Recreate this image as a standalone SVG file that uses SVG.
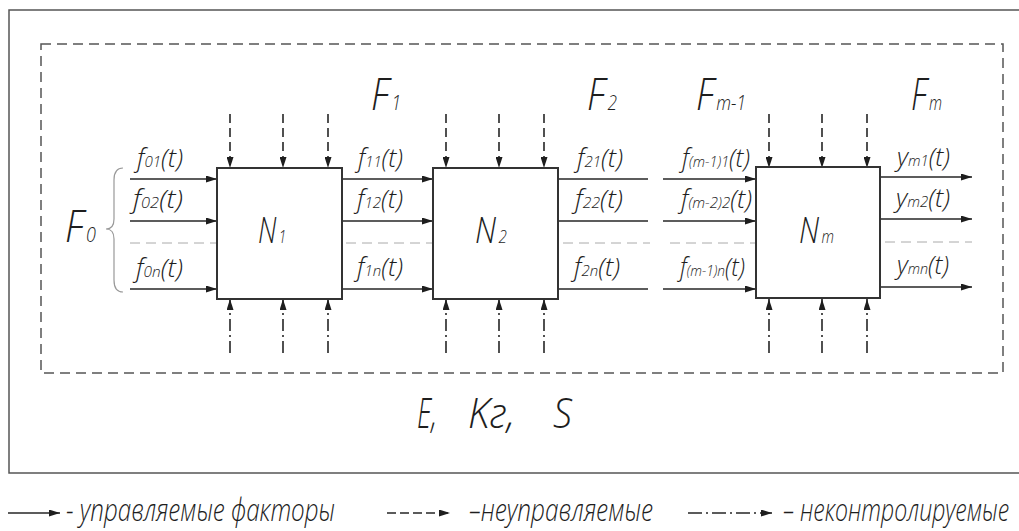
<svg xmlns="http://www.w3.org/2000/svg" width="1019" height="531" viewBox="0 0 1019 531">
<style>
.ln{stroke:#262626;stroke-width:1.6;fill:none}
.dsh{stroke-dasharray:9 5}
.dd{stroke-dasharray:12 4 2 4}
.row{stroke:#aaa;stroke-width:1;stroke-dasharray:10 6;fill:none}
.box{fill:#fff;stroke:#333;stroke-width:2}
.t{font-family:'Open Sans','DejaVu Sans',sans-serif;font-style:italic;font-weight:300;fill:#1e1e1e}
.m{font-size:26px}
.s{font-size:15px}
.big{font-size:45px}
.bs{font-size:21px}
.nn{font-size:36px}
.ns{font-size:18px}
</style>
<defs>
<marker id="ah" viewBox="0 0 11 7" refX="11" refY="3.5" markerWidth="11" markerHeight="7" markerUnits="userSpaceOnUse" orient="auto"><path d="M0,0 L11,3.5 L0,7 z" fill="#1e1e1e"/></marker>
</defs>
<rect width="1019" height="531" fill="#fff"/>
<rect x="9" y="10" width="1030" height="463" fill="none" stroke="#555" stroke-width="1.5"/>
<rect x="41" y="44" width="962" height="329" fill="none" stroke="#555" stroke-width="1.5" stroke-dasharray="10 6"/>

<g id="connectors">
<line class="ln" x1="130" y1="179" x2="217" y2="179" marker-end="url(#ah)"/>
<line class="ln" x1="130" y1="221" x2="217" y2="221" marker-end="url(#ah)"/>
<line class="ln" x1="130" y1="289" x2="217" y2="289" marker-end="url(#ah)"/>
<line class="row" x1="130" y1="243" x2="217" y2="243"/>
<line class="ln" x1="342" y1="179" x2="433" y2="179" marker-end="url(#ah)"/>
<line class="ln" x1="342" y1="221" x2="433" y2="221" marker-end="url(#ah)"/>
<line class="ln" x1="342" y1="289" x2="433" y2="289" marker-end="url(#ah)"/>
<line class="row" x1="346" y1="243" x2="433" y2="243"/>
<line class="ln" x1="558" y1="179" x2="648" y2="179"/>
<line class="ln" x1="558" y1="221" x2="648" y2="221"/>
<line class="ln" x1="558" y1="289" x2="648" y2="289"/>
<line class="row" x1="563" y1="243" x2="650" y2="243"/>
<line class="ln" x1="663" y1="179" x2="756" y2="179" marker-end="url(#ah)"/>
<line class="ln" x1="663" y1="221" x2="756" y2="221" marker-end="url(#ah)"/>
<line class="ln" x1="663" y1="289" x2="756" y2="289" marker-end="url(#ah)"/>
<line class="row" x1="670" y1="243" x2="756" y2="243"/>
<line class="ln" x1="880" y1="177" x2="972" y2="177" marker-end="url(#ah)"/>
<line class="ln" x1="880" y1="219" x2="972" y2="219" marker-end="url(#ah)"/>
<line class="ln" x1="880" y1="287" x2="972" y2="287" marker-end="url(#ah)"/>
<line class="row" x1="885" y1="242" x2="972" y2="242"/>
<line class="ln dsh" x1="230" y1="114" x2="230" y2="168" marker-end="url(#ah)"/>
<line class="ln dsh" x1="283" y1="114" x2="283" y2="168" marker-end="url(#ah)"/>
<line class="ln dsh" x1="328" y1="114" x2="328" y2="168" marker-end="url(#ah)"/>
<line class="ln dsh" x1="446" y1="114" x2="446" y2="168" marker-end="url(#ah)"/>
<line class="ln dsh" x1="499" y1="114" x2="499" y2="168" marker-end="url(#ah)"/>
<line class="ln dsh" x1="544" y1="114" x2="544" y2="168" marker-end="url(#ah)"/>
<line class="ln dsh" x1="769" y1="114" x2="769" y2="168" marker-end="url(#ah)"/>
<line class="ln dsh" x1="822" y1="114" x2="822" y2="168" marker-end="url(#ah)"/>
<line class="ln dsh" x1="867" y1="114" x2="867" y2="168" marker-end="url(#ah)"/>
<line class="ln dd" x1="230" y1="353" x2="230" y2="299" marker-end="url(#ah)"/>
<line class="ln dd" x1="283" y1="353" x2="283" y2="299" marker-end="url(#ah)"/>
<line class="ln dd" x1="328" y1="353" x2="328" y2="299" marker-end="url(#ah)"/>
<line class="ln dd" x1="446" y1="353" x2="446" y2="299" marker-end="url(#ah)"/>
<line class="ln dd" x1="499" y1="353" x2="499" y2="299" marker-end="url(#ah)"/>
<line class="ln dd" x1="544" y1="353" x2="544" y2="299" marker-end="url(#ah)"/>
<line class="ln dd" x1="769" y1="353" x2="769" y2="299" marker-end="url(#ah)"/>
<line class="ln dd" x1="822" y1="353" x2="822" y2="299" marker-end="url(#ah)"/>
<line class="ln dd" x1="867" y1="353" x2="867" y2="299" marker-end="url(#ah)"/>
<path d="M123,168 Q114,168 114,180 L114,219 Q114,229 106,229 Q114,229 114,239 L114,280 Q114,292 123,292" fill="none" stroke="#999" stroke-width="1.2"/>
</g>

<g id="N1"><rect class="box" x="217" y="168" width="125" height="131"/>
<text class="t" x="258" y="243" textLength="28" lengthAdjust="spacingAndGlyphs"><tspan class="nn">N</tspan><tspan class="ns" dx="3">1</tspan></text></g>
<g id="N2"><rect class="box" x="433" y="168" width="125" height="131"/>
<text class="t" x="475" y="243" textLength="32" lengthAdjust="spacingAndGlyphs"><tspan class="nn">N</tspan><tspan class="ns" dx="3">2</tspan></text></g>
<g id="Nm"><rect class="box" x="756" y="167" width="124" height="131"/>
<text class="t" x="799" y="243" textLength="35" lengthAdjust="spacingAndGlyphs"><tspan class="nn">N</tspan><tspan class="ns" dx="3">m</tspan></text></g>

<g id="F-labels">
<text class="t" x="65" y="242" textLength="31" lengthAdjust="spacingAndGlyphs"><tspan class="big">F</tspan><tspan class="bs" dx="3">0</tspan></text>
<text class="t" x="371" y="110" textLength="30" lengthAdjust="spacingAndGlyphs"><tspan class="big">F</tspan><tspan class="bs" dx="3">1</tspan></text>
<text class="t" x="587" y="110" textLength="30" lengthAdjust="spacingAndGlyphs"><tspan class="big">F</tspan><tspan class="bs" dx="3">2</tspan></text>
<text class="t" x="696" y="110" textLength="50" lengthAdjust="spacingAndGlyphs"><tspan class="big">F</tspan><tspan class="bs" dx="3">m-1</tspan></text>
<text class="t" x="911" y="110" textLength="31" lengthAdjust="spacingAndGlyphs"><tspan class="big">F</tspan><tspan class="bs" dx="3">m</tspan></text>
</g>

<g id="f-labels">
<text class="t" x="137" y="167" textLength="46" lengthAdjust="spacingAndGlyphs"><tspan class="m">f</tspan><tspan class="s">01</tspan><tspan class="m">(t)</tspan></text>
<text class="t" x="133" y="208" textLength="50" lengthAdjust="spacingAndGlyphs"><tspan class="m">f</tspan><tspan class="s">02</tspan><tspan class="m">(t)</tspan></text>
<text class="t" x="136" y="277" textLength="47" lengthAdjust="spacingAndGlyphs"><tspan class="m">f</tspan><tspan class="s">0n</tspan><tspan class="m">(t)</tspan></text>

<text class="t" x="358" y="167" textLength="45" lengthAdjust="spacingAndGlyphs"><tspan class="m">f</tspan><tspan class="s">11</tspan><tspan class="m">(t)</tspan></text>
<text class="t" x="357" y="208" textLength="46" lengthAdjust="spacingAndGlyphs"><tspan class="m">f</tspan><tspan class="s">12</tspan><tspan class="m">(t)</tspan></text>
<text class="t" x="357" y="276" textLength="46" lengthAdjust="spacingAndGlyphs"><tspan class="m">f</tspan><tspan class="s">1n</tspan><tspan class="m">(t)</tspan></text>

<text class="t" x="577" y="167" textLength="46" lengthAdjust="spacingAndGlyphs"><tspan class="m">f</tspan><tspan class="s">21</tspan><tspan class="m">(t)</tspan></text>
<text class="t" x="575" y="208" textLength="48" lengthAdjust="spacingAndGlyphs"><tspan class="m">f</tspan><tspan class="s">22</tspan><tspan class="m">(t)</tspan></text>
<text class="t" x="574" y="276" textLength="46" lengthAdjust="spacingAndGlyphs"><tspan class="m">f</tspan><tspan class="s">2n</tspan><tspan class="m">(t)</tspan></text>

<text class="t" x="682" y="167" textLength="68" lengthAdjust="spacingAndGlyphs"><tspan class="m">f</tspan><tspan class="s">(m-1)1</tspan><tspan class="m">(t)</tspan></text>
<text class="t" x="681" y="208" textLength="71" lengthAdjust="spacingAndGlyphs"><tspan class="m">f</tspan><tspan class="s">(m-2)2</tspan><tspan class="m">(t)</tspan></text>
<text class="t" x="680" y="276" textLength="65" lengthAdjust="spacingAndGlyphs"><tspan class="m">f</tspan><tspan class="s">(m-1)n</tspan><tspan class="m">(t)</tspan></text>

<text class="t" x="897" y="166" textLength="53" lengthAdjust="spacingAndGlyphs"><tspan class="m">y</tspan><tspan class="s">m1</tspan><tspan class="m">(t)</tspan></text>
<text class="t" x="896" y="207" textLength="54" lengthAdjust="spacingAndGlyphs"><tspan class="m">y</tspan><tspan class="s">m2</tspan><tspan class="m">(t)</tspan></text>
<text class="t" x="897" y="274" textLength="52" lengthAdjust="spacingAndGlyphs"><tspan class="m">y</tspan><tspan class="s">mn</tspan><tspan class="m">(t)</tspan></text>
</g>

<g id="params">
<text class="t" x="417" y="428" font-size="42" textLength="20" lengthAdjust="spacingAndGlyphs">E,</text>
<text class="t" x="468" y="428" font-size="42" textLength="47" lengthAdjust="spacingAndGlyphs">Kг,</text>
<text class="t" x="553" y="428" font-size="42" textLength="19" lengthAdjust="spacingAndGlyphs">S</text>
</g>

<g id="legend">
<line class="ln" x1="8" y1="513" x2="60" y2="513" marker-end="url(#ah)"/>
<text class="t" font-size="32" x="66" y="521" textLength="269" lengthAdjust="spacingAndGlyphs">- управляемые факторы</text>
<line class="ln" x1="387" y1="513" x2="450" y2="513" stroke-dasharray="9 4" marker-end="url(#ah)"/>
<text class="t" font-size="32" x="469" y="521" textLength="184" lengthAdjust="spacingAndGlyphs">–неуправляемые</text>
<line class="ln" x1="688" y1="513" x2="772" y2="513" stroke-dasharray="14 4 2 4" marker-end="url(#ah)"/>
<text class="t" font-size="32" transform="translate(783 521) scale(0.72 1)" x="0" y="0" textLength="314" lengthAdjust="spacingAndGlyphs">– неконтролируемые</text>
</g>
</svg>
